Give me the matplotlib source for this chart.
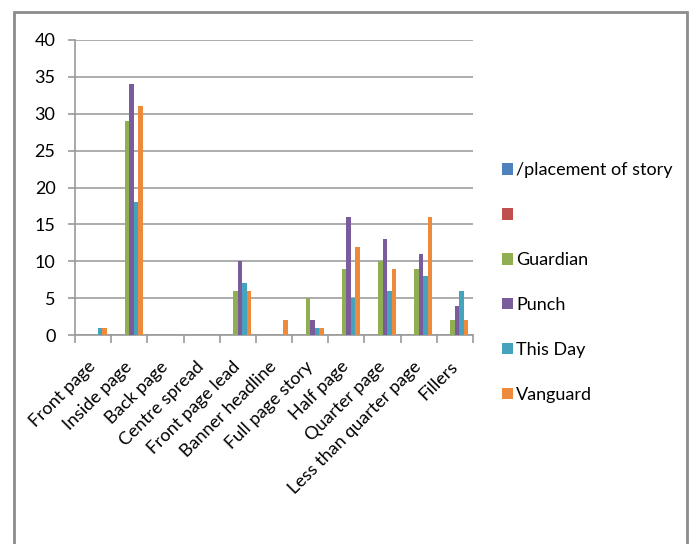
import numpy as np
import matplotlib.pyplot as plt
from matplotlib.patches import Rectangle

categories = ["Front page", "Inside page", "Back page", "Centre spread",
              "Front page lead", "Banner headline", "Full page story",
              "Half page", "Quarter page", "Less than quarter page", "Fillers"]
series_names = ["/placement of story", "", "Guardian", "Punch", "This Day", "Vanguard"]
placement = [0, 0, 0, 0, 0, 0, 0, 0, 0, 0, 0]
blank = [0, 0, 0, 0, 0, 0, 0, 0, 0, 0, 0]
guardian = [0, 29, 0, 0, 6, 0, 5, 9, 10, 9, 2]
punch = [0, 34, 0, 0, 10, 0, 2, 16, 13, 11, 4]
this_day = [1, 18, 0, 0, 7, 0, 1, 5, 6, 8, 6]
vanguard = [1, 31, 0, 0, 6, 2, 1, 12, 9, 16, 2]
colors = ["#4F81BD", "#C0504D", "#8FAF52", "#7A5C9C", "#45A3BE", "#EE8A3C"]

plt.rcParams['font.family'] = ['Lato', 'DejaVu Sans']
fs = 13

fig = plt.figure(figsize=(6.89, 5.44), dpi=100)
ax = fig.add_axes([75 / 689, 1 - 335 / 544, 398 / 689, 295 / 544])

x = np.arange(len(categories))
w = 0.125
handles = []
for i, vals in enumerate([placement, blank, guardian, punch, this_day, vanguard]):
    b = ax.bar(x + (i - 2.5) * w, vals, w, color=colors[i], zorder=3)
    handles.append(b)

ax.set_xlim(-0.5, len(categories) - 0.5)
ax.set_ylim(0, 40)
ax.set_yticks(range(0, 41, 5))
ax.yaxis.grid(True, color="#a6a6a6", linewidth=1.3, zorder=0)
for s in ["top", "right"]:
    ax.spines[s].set_visible(False)
for s in ["left", "bottom"]:
    ax.spines[s].set_color("#999999")
    ax.spines[s].set_linewidth(1.2)

ax.set_xticks(x)
ax.set_xticklabels(categories, rotation=45, ha="right", va="center", rotation_mode="anchor")
ax.set_xticks(np.arange(-0.5, len(categories)), minor=True)
ax.tick_params(axis="x", which="major", length=0, pad=21, labelsize=fs)
ax.tick_params(axis="x", which="minor", length=6, color="#999999", width=1.2)
ax.tick_params(axis="y", length=5, color="#999999", width=1.2, pad=9, labelsize=fs)

fig.legend(handles, series_names, loc="center left",
           bbox_to_anchor=(502 / 689, 1 - 282.5 / 544), frameon=False,
           fontsize=fs, labelspacing=1.6, handlelength=0.62, handleheight=0.62,
           handletextpad=0.15, borderpad=0, borderaxespad=0)

fig.patches.append(Rectangle((14 / 689, -0.1), 673 / 689, 1.1 - 12 / 544,
                             transform=fig.transFigure, fill=False,
                             edgecolor="#8c8c8c", linewidth=2))

fig.savefig("out.png", dpi=100)
